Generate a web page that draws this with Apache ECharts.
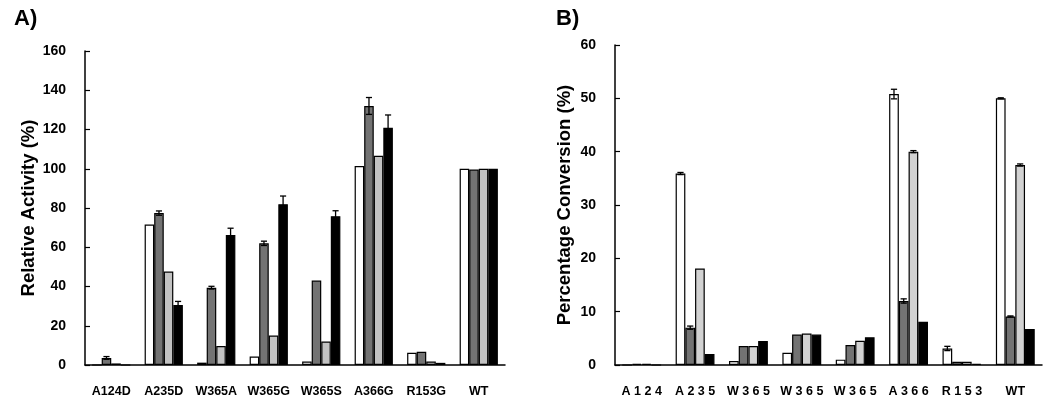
<!DOCTYPE html>
<html>
<head>
<meta charset="utf-8">
<script src="https://cdn.jsdelivr.net/npm/echarts@6/dist/echarts.min.js"></script>
<style>
html,body{margin:0;padding:0;background:#fff;}
#chart{width:1050px;height:404px;}
</style>
</head>
<body>
<div id="chart"></div>
<script>
// ---- Panel A: Relative Activity (%) ----
const catsA = ['A124D', 'A235D', 'W365A', 'W365G', 'W365S', 'A366G', 'R153G', 'WT'];
const aWhite = [0, 71.6, 1.2, 4.3, 1.8, 101.4, 6.2, 100];
const aDark  = [3.6, 77.4, 39.4, 62, 43, 132, 6.7, 99.6];
const aLight = [0.8, 47.6, 9.7, 15, 12, 106.6, 1.8, 100];
const aBlack = [0, 30.6, 66.3, 81.9, 75.8, 120.9, 1.1, 100];
const aWhiteErr = [0, 0, 0, 0, 0, 0, 0, 0];
const aDarkErr  = [0.7, 1.1, 0.7, 1.1, 0, 4.3, 0, 0];
const aLightErr = [0, 0, 0, 0, 0, 0, 0, 0];
const aBlackErr = [0, 1.8, 3.4, 4.2, 2.8, 6.5, 0, 0];
const ticksA = [0, 20, 40, 60, 80, 100, 120, 140, 160];

// ---- Panel B: Percentage Conversion (%) ----
const catsB = ['A 1 2 4', 'A 2 3 5', 'W 3 6 5', 'W 3 6 5', 'W 3 6 5', 'A 3 6 6', 'R 1 5 3', 'WT'];
const bWhite = [0, 35.9, 0.75, 2.3, 1.0, 50.8, 3.1, 50.0];
const bDark  = [0.2, 7.0, 3.55, 5.7, 3.75, 12.0, 0.6, 9.1];
const bLight = [0.2, 18.1, 3.55, 5.9, 4.55, 40.0, 0.6, 37.5];
const bBlack = [0, 2.05, 4.5, 5.7, 5.2, 8.1, 0.2, 6.75];
const bWhiteErr = [0, 0.2, 0, 0, 0, 0.9, 0.4, 0.1];
const bDarkErr  = [0, 0.3, 0, 0, 0, 0.4, 0, 0.1];
const bLightErr = [0, 0, 0, 0, 0, 0.2, 0, 0.2];
const bBlackErr = [0, 0, 0, 0, 0, 0, 0, 0];
const ticksB = [0, 10, 20, 30, 40, 50, 60];

const BAR_FRAC = 0.182;
const FONT = 'Liberation Sans, Arial, sans-serif';

const colorsA = ['#ffffff', '#737373', '#c2c2c2', '#000000'];
const colorsB = ['#ffffff', '#737373', '#d2d2d2', '#000000'];

function barSeries(idx, data, color) {
  return {
    type: 'bar', xAxisIndex: idx, yAxisIndex: idx, data: data,
    barWidth: (BAR_FRAC * 100) + '%', barGap: '0%',
    itemStyle: { color: color, borderColor: '#000', borderWidth: 1.2 },
    silent: true, animation: false
  };
}

function errSeries(idx, pos, vals, errs) {
  const data = [];
  vals.forEach((v, i) => { if (errs[i] > 0) data.push([i, v, errs[i]]); });
  return {
    type: 'custom', xAxisIndex: idx, yAxisIndex: idx, data: data, z: 10,
    silent: true, animation: false,
    renderItem: function (params, api) {
      const ci = api.value(0), v = api.value(1), e = api.value(2);
      const band = api.size([1, 0])[0];
      const bw = band * BAR_FRAC;
      const x = api.coord([ci, v])[0] + (pos - 1.5) * bw;
      const yT = api.coord([ci, v + e])[1];
      const yB = api.coord([ci, v - e])[1];
      const cap = bw * 0.32;
      const st = { stroke: '#000', lineWidth: 1.3 };
      return {
        type: 'group', children: [
          { type: 'line', shape: { x1: x, y1: yT, x2: x, y2: yB }, style: st },
          { type: 'line', shape: { x1: x - cap, y1: yT, x2: x + cap, y2: yT }, style: st },
          { type: 'line', shape: { x1: x - cap, y1: yB, x2: x + cap, y2: yB }, style: st }
        ]
      };
    }
  };
}

function xAxis(idx, cats) {
  return {
    type: 'category', gridIndex: idx, data: cats,
    axisLine: { lineStyle: { color: '#000', width: 1.5 } },
    axisTick: { show: false },
    axisLabel: { color: '#000', fontFamily: FONT, fontWeight: 'bold', fontSize: 12.5, margin: 20, interval: 0 }
  };
}

function yAxis(idx, ticks, name, gap) {
  return {
    type: 'value', gridIndex: idx,
    min: ticks[0], max: ticks[ticks.length - 1], interval: ticks[1] - ticks[0],
    name: name, nameLocation: 'middle', nameGap: gap, nameRotate: 90,
    nameTextStyle: { color: '#000', fontFamily: FONT, fontWeight: 'bold', fontSize: 18.5 },
    axisLine: { show: true, lineStyle: { color: '#000', width: 1.5 } },
    axisTick: { show: true, inside: true, length: 5, lineStyle: { color: '#000', width: 1.2 } },
    splitLine: { show: false },
    axisLabel: { color: '#000', fontFamily: FONT, fontWeight: 'bold', fontSize: 14, margin: 19 }
  };
}

const chart = echarts.init(document.getElementById('chart'), null, { renderer: 'canvas' });
const series = [];
[aWhite, aDark, aLight, aBlack].forEach((d, i) => series.push(barSeries(0, d, colorsA[i])));
[bWhite, bDark, bLight, bBlack].forEach((d, i) => series.push(barSeries(1, d, colorsB[i])));
[[aWhite, aWhiteErr], [aDark, aDarkErr], [aLight, aLightErr], [aBlack, aBlackErr]].forEach((p, i) => series.push(errSeries(0, i, p[0], p[1])));
[[bWhite, bWhiteErr], [bDark, bDarkErr], [bLight, bLightErr], [bBlack, bBlackErr]].forEach((p, i) => series.push(errSeries(1, i, p[0], p[1])));

chart.setOption({
  animation: false,
  backgroundColor: '#fff',
  title: [
    { text: 'A)', left: 9, top: 3, textStyle: { fontFamily: FONT, fontWeight: 'bold', fontSize: 22, color: '#000' } },
    { text: 'B)', left: 551, top: 3, textStyle: { fontFamily: FONT, fontWeight: 'bold', fontSize: 22, color: '#000' } }
  ],
  grid: [
    { left: 85, right: 545, top: 51, bottom: 39 },
    { left: 615, right: 8, top: 45, bottom: 39 }
  ],
  xAxis: [xAxis(0, catsA), xAxis(1, catsB)],
  yAxis: [yAxis(0, ticksA, 'Relative Activity (%)', 47), yAxis(1, ticksB, 'Percentage Conversion (%)', 41)],
  series: series
});
</script>
</body>
</html>
